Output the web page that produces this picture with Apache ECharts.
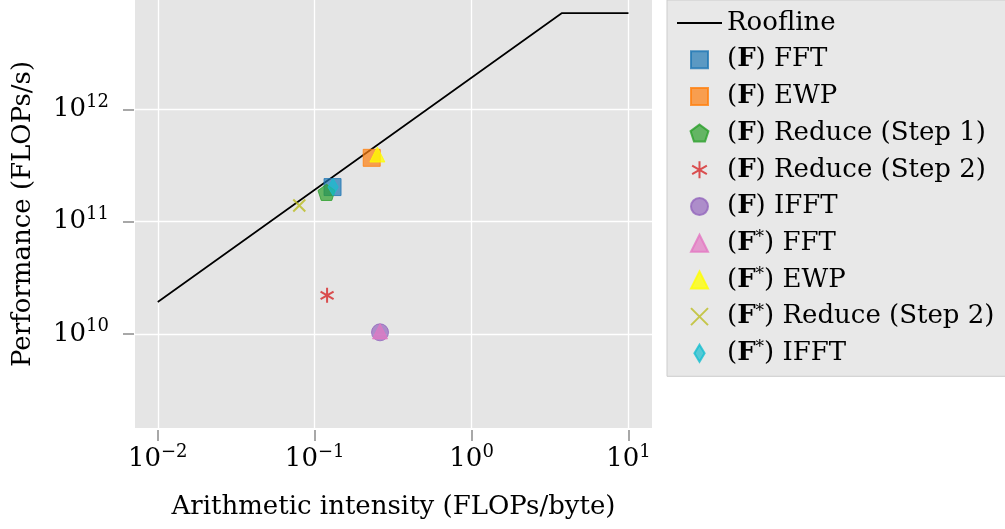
<!DOCTYPE html>
<html>
<head>
<meta charset="utf-8">
<script src="https://cdn.jsdelivr.net/npm/echarts@6/dist/echarts.min.js"></script>
<style>
html,body{margin:0;padding:0;background:#ffffff;}
#chart{width:1005px;height:529px;}
</style>
</head>
<body>
<div id="chart"></div>
<script>
// ---- data ----
const xTicks = [0.01, 0.1, 1, 10];
const yTicks = [1e10, 1e11, 1e12];
const rooflineX = [0.01, 3.75, 10];
const rooflineY = [1.92e10, 7.2e12, 7.2e12];
const seriesNames = [
  '(F) FFT', '(F) EWP', '(F) Reduce (Step 1)', '(F) Reduce (Step 2)', '(F) IFFT',
  '(F*) FFT', '(F*) EWP', '(F*) Reduce (Step 2)', '(F*) IFFT'
];
const pointX = [0.130, 0.231, 0.119, 0.120, 0.261, 0.261, 0.251, 0.0798, 0.131];
const pointY = [2.03e11, 3.70e11, 1.82e11, 2.20e10, 1.03e10, 1.05e10, 3.96e11, 1.39e11, 2.03e11];

// ---- styles ----
const FONT = 'DejaVu Serif';
const colors = ['#1f77b4', '#ff7f0e', '#2ca02c', '#d62728', '#9467bd', '#e377c2', '#ffff00', '#bcbd22', '#17becf'];
const fills = ['rgba(31,119,180,0.88)', 'rgba(255,127,14,0.88)', 'rgba(44,160,44,0.88)', '#d62728',
  'rgba(148,103,189,0.88)', 'rgba(227,119,194,0.88)', 'rgba(255,255,0,0.95)', '#bcbd22', 'rgba(23,190,207,0.88)'];
const SQR = 'path://M-1,-1L1,-1L1,1L-1,1Z';
const TRI = 'path://M0,-1L1,1L-1,1Z';
const PENT = 'path://M0,-1L0.951,-0.309L0.588,0.809L-0.588,0.809L-0.951,-0.309Z';
const DIAM = 'path://M0,-1L0.6,0L0,1L-0.6,0Z';
const AST = 'path://M0,-1L0,1M-0.866,-0.5L0.866,0.5M-0.866,0.5L0.866,-0.5';
const XMK = 'path://M-1,-1L1,1M-1,1L1,-1';
const symbols = [SQR, SQR, PENT, AST, 'circle', TRI, TRI, XMK, DIAM];
const sizes = [17, 17, 17, 15, 17, 15, 15, 12, 17];
const lineOnly = [false, false, false, true, false, false, false, true, false];

function expLabel(v) {
  const e = Math.round(Math.log10(v));
  return '{b|10}{s|' + String(e).replace('-', '\u2212') + '}';
}
const labelRich = {
  b: {fontFamily: FONT, fontSize: 26, lineHeight: 32, color: '#000'},
  s: {fontFamily: FONT, fontSize: 18, lineHeight: 18, verticalAlign: 'top', color: '#000'}
};

const series = [{
  name: 'Roofline',
  type: 'line',
  data: rooflineX.map((x, i) => [x, rooflineY[i]]),
  symbol: 'none',
  showSymbol: false,
  lineStyle: {color: '#000000', width: 1.7},
  itemStyle: {color: '#000000'},
  z: 2
}];
seriesNames.forEach((n, i) => {
  series.push({
    name: n,
    type: 'scatter',
    data: [[pointX[i], pointY[i]]],
    symbol: symbols[i],
    symbolSize: sizes[i],
    symbolKeepAspect: true,
    itemStyle: lineOnly[i]
      ? {color: colors[i], borderColor: colors[i], borderWidth: 2}
      : {color: fills[i], borderColor: colors[i], borderWidth: 1},
    z: 3
  });
});

const chart = echarts.init(document.getElementById('chart'), null, {renderer: 'canvas'});
chart.setOption({
  animation: false,
  backgroundColor: '#ffffff',
  grid: {
    left: 135, right: 353, top: 0, bottom: 101,
    show: true, backgroundColor: '#e5e5e5', borderWidth: 0
  },
  xAxis: {
    type: 'log',
    min: Math.pow(10, -2.145),
    max: Math.pow(10, 1.15),
    offset: 2,
    axisLine: {show: false},
    axisTick: {show: true, length: 11, lineStyle: {color: '#8c8c8c', width: 1.5}, customValues: xTicks},
    axisLabel: {margin: 13, formatter: expLabel, rich: labelRich, customValues: xTicks},
    splitLine: {show: true, lineStyle: {color: '#ffffff', width: 1.3}},
    minorTick: {show: false},
    name: 'Arithmetic intensity (FLOPs/byte)',
    nameLocation: 'middle',
    nameGap: 64,
    nameTextStyle: {fontFamily: FONT, fontSize: 26, color: '#000'}
  },
  yAxis: {
    type: 'log',
    min: Math.pow(10, 9.16),
    max: Math.pow(10, 12.975),
    offset: 1,
    axisLine: {show: false},
    axisTick: {show: true, length: 11, lineStyle: {color: '#8c8c8c', width: 1.5}, customValues: yTicks},
    axisLabel: {margin: 25, formatter: expLabel, rich: labelRich, customValues: yTicks},
    splitLine: {show: true, lineStyle: {color: '#ffffff', width: 1.3}},
    name: 'Performance (FLOPs/s)',
    nameLocation: 'middle',
    nameGap: 98,
    nameTextStyle: {fontFamily: FONT, fontSize: 26, color: '#000'}
  },
  legend: {
    orient: 'vertical',
    left: 667,
    top: 0,
    padding: [9, 40, 9, 9],
    itemWidth: 45,
    itemHeight: 17,
    itemGap: 8.7,
    selectedMode: false,
    backgroundColor: '#e8e8e8',
    borderColor: '#cccccc',
    borderWidth: 1,
    borderRadius: 0,
    data: [{name: 'Roofline', itemStyle: {opacity: 0}}].concat(seriesNames),
    formatter: function (name) {
      if (name.indexOf('(F*)') === 0) return '({b|F}{s|*})' + name.slice(4);
      if (name.indexOf('(F)') === 0) return '({b|F})' + name.slice(3);
      return name;
    },
    textStyle: {
      fontFamily: FONT, fontSize: 26, lineHeight: 28, color: '#000',
      rich: {
        b: {fontFamily: FONT, fontSize: 26, lineHeight: 28, fontWeight: 'bold', color: '#000'},
        s: {fontFamily: FONT, fontSize: 17, lineHeight: 17, verticalAlign: 'top', color: '#000'}
      }
    }
  },
  series: series
});
</script>
</body>
</html>
